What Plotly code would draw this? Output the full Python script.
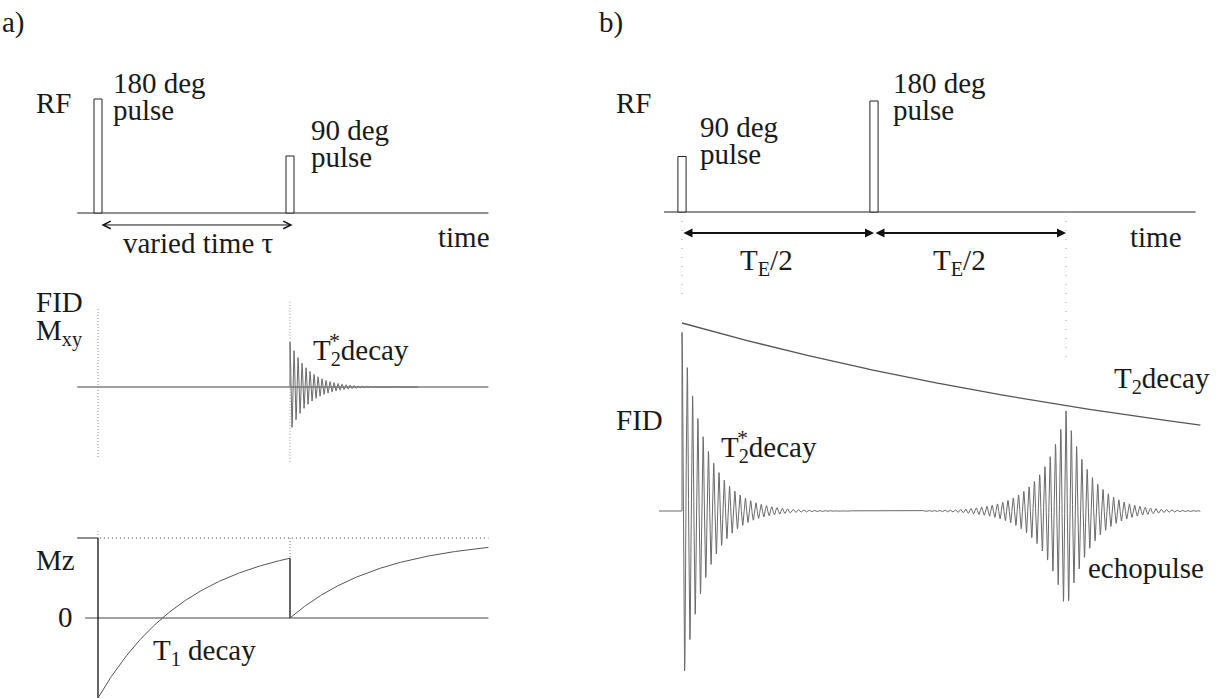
import numpy as np
import plotly.graph_objects as go

W, H = 1222, 699

# ---------------- a) inversion recovery ----------------
TAU = 600.0                 # ms, delay between the 180 and 90 deg pulses
T1 = 290.0                  # ms, longitudinal relaxation time
T2STAR_A = 59.0             # ms, dephasing of the FID
PERIOD_A = 12.5             # ms, precession period as drawn
RF_A_TIMES = [0.0, TAU]     # 180 deg pulse, 90 deg pulse
RF_A_AMPS = [2.0, 1.0]
PULSE_W_A = 25.0
T_START_A, T_END_A = -65.0, 1220.0

# ---------------- b) spin echo ----------------
TE = 80.0                   # ms, echo time
T2 = 138.0                  # ms, transverse relaxation time
T2STAR_B = 5.2              # ms
PERIOD_B = 1.1              # ms
FID_AMP_B = 0.95
RF_B_TIMES = [0.0, TE / 2]  # 90 deg pulse, 180 deg pulse
RF_B_AMPS = [1.0, 2.0]
PULSE_W_B = 1.7
T_START_B, T_END_B = -4.8, 108.0

FONT = "Liberation Serif"
FS = 29
INK = "#1a1a1a"


def x_range(origin_px, px_per_unit):
    return [(0 - origin_px) / px_per_unit, (W - origin_px) / px_per_unit]


def y_range(origin_px, px_per_unit):
    return [(origin_px - H) / px_per_unit, origin_px / px_per_unit]


fig = go.Figure()


def line(x, y, xa, ya, color="#222", width=1.0, dash=None):
    fig.add_trace(go.Scatter(
        x=x, y=y, xaxis=xa, yaxis=ya, mode="lines",
        line=dict(color=color, width=width, dash=dash),
        hoverinfo="skip", showlegend=False))


# ---- a) RF row ----
line([T_START_A, T_END_A], [0, 0], "x", "y", "#222", 1)
for t, a in zip(RF_A_TIMES, RF_A_AMPS):
    fig.add_shape(type="rect", xref="x", yref="y",
                  x0=t - PULSE_W_A / 2, x1=t + PULSE_W_A / 2, y0=0, y1=a,
                  line=dict(color="#222", width=1), fillcolor="white")

# ---- a) FID row ----
mxy0 = 1 - 2 * np.exp(-TAU / T1)
line([T_START_A, T_END_A], [0, 0], "x", "y2", "#808080", 1.6)
ta = np.arange(0, 400, 0.25)
fid_a = mxy0 * np.exp(-ta / T2STAR_A) * np.cos(2 * np.pi * ta / PERIOD_A)
line(np.concatenate([[TAU], TAU + ta]), np.concatenate([[0], fid_a]),
     "x", "y2", "#6a6a6a", 1)
line([0, 0], [1.3, -1.17], "x", "y2", "#888", 1, "1px,2px")
line([TAU, TAU], [1.42, -1.25], "x", "y2", "#999", 1, "1px,2px")

# ---- a) Mz row ----
t_in = np.linspace(0, TAU, 300)
mz_in = 1 - 2 * np.exp(-t_in / T1)
t_out = np.linspace(TAU, T_END_A, 300)
mz_out = 1 - np.exp(-(t_out - TAU) / T1)
line([-40, T_END_A], [0, 0], "x", "y3", "#444", 1)
line([T_START_A, 0], [1, 1], "x", "y3", "#444", 1.2)
line([0, 0], [1, -1], "x", "y3", "#111", 1.3)
line(t_in, mz_in, "x", "y3", "#555", 1)
line([TAU, TAU], [mz_in[-1], 0], "x", "y3", "#111", 1.3)
line(t_out, mz_out, "x", "y3", "#555", 1)
line([6, T_END_A], [1, 1], "x", "y3", "#333", 1, "1px,3px")
line([0, 0], [1, 1.1], "x", "y3", "#999", 1, "1px,2px")
line([TAU, TAU], [1, mz_in[-1]], "x", "y3", "#777", 1, "1px,2px")

# ---- b) RF row ----
line([-3.75, T_END_B - 1], [0, 0], "x2", "y4", "#222", 1)
for t, a in zip(RF_B_TIMES, RF_B_AMPS):
    fig.add_shape(type="rect", xref="x2", yref="y4",
                  x0=t - PULSE_W_B / 2, x1=t + PULSE_W_B / 2, y0=0, y1=a,
                  line=dict(color="#222", width=1), fillcolor="white")
line([0, 0], [0, -1.62], "x2", "y4", "#999", 1, "1px,8px")
line([TE, TE], [0, -2.76], "x2", "y4", "#999", 1, "1px,8px")

# ---- b) FID with echo ----
tb = np.arange(0, T_END_B, 0.02)
fid_b = FID_AMP_B * np.exp(-tb / T2) * (
    np.exp(-tb / T2STAR_B) * np.cos(2 * np.pi * tb / PERIOD_B)
    + np.exp(-np.abs(tb - TE) / T2STAR_B) * np.cos(2 * np.pi * (tb - TE) / PERIOD_B))
line(np.concatenate([[T_START_B, 0], tb]), np.concatenate([[0, 0], fid_b]),
     "x2", "y5", "#6a6a6a", 1)
t2c = np.linspace(0, T_END_B, 300)
line(t2c, np.exp(-t2c / T2), "x2", "y5", "#555", 1.3)


# ---- arrows ----
def arrow(x0, x1, y, xa, ya, head, size, width):
    fig.add_annotation(x=x1, y=y, ax=x0, ay=y, xref=xa, yref=ya,
                       axref=xa, ayref=ya, text="", showarrow=True,
                       arrowhead=head, startarrowhead=head,
                       arrowsize=size, startarrowsize=size,
                       arrowwidth=width, arrowcolor="#111",
                       arrowside="end+start", standoff=0, startstandoff=0)


arrow(6, TAU + 8, -0.21, "x", "y", 5, 1.5, 1)
arrow(0, TE / 2, -0.38, "x2", "y4", 2, 0.9, 2)
arrow(TE / 2, TE, -0.38, "x2", "y4", 2, 0.9, 2)


# ---- text ----
def label(text, px, py, size=FS, anchor="left", family=FONT):
    fig.add_annotation(x=px / W, y=1 - py / H, xref="paper", yref="paper",
                       text=text, showarrow=False, xanchor=anchor,
                       yanchor="middle", font=dict(family=family, size=size, color=INK))


label("a)", 0, 22)
label("RF", 34, 103)
label("180 deg", 111, 83)
label("pulse", 111, 110)
label("90 deg", 309, 130)
label("pulse", 309, 157)
label("varied time τ", 121, 243)
label("time", 436, 237)
label("FID", 34, 302)
label("M<sub>xy</sub>", 34, 332)
label("T<sub>2</sub>decay", 311, 352)
label("*", 327, 340, 22)
label("Mz", 34, 560)
label("0", 56, 617)
label("T<sub>1</sub> decay", 151, 652)

label("b)", 597, 22)
label("RF", 614, 103)
label("90 deg", 698, 127)
label("pulse", 698, 154)
label("180 deg", 891, 83)
label("pulse", 891, 110)
label("time", 1128, 237)
label("T<sub>E</sub>/2", 766, 262, anchor="center")
label("T<sub>E</sub>/2", 959, 262, anchor="center")
label("FID", 614, 420)
label("T<sub>2</sub>decay", 719, 449)
label("*", 735, 437, 22)
label("T<sub>2</sub>decay", 1112, 380)
label("echopulse", 1086, 568)

axis_common = dict(visible=False, showgrid=False, zeroline=False, fixedrange=True)
fig.update_layout(
    width=W, height=H, autosize=False,
    margin=dict(l=0, r=0, t=0, b=0, pad=0),
    paper_bgcolor="white", plot_bgcolor="white",
    showlegend=False,
    xaxis=dict(range=x_range(98, 0.32), **axis_common),
    xaxis2=dict(range=x_range(682, 4.8), overlaying="x", **axis_common),
    yaxis=dict(range=y_range(213, 57), **axis_common),
    yaxis2=dict(range=y_range(387, 60), overlaying="y", **axis_common),
    yaxis3=dict(range=y_range(618, 80), overlaying="y", **axis_common),
    yaxis4=dict(range=y_range(212, 55.5), overlaying="y", **axis_common),
    yaxis5=dict(range=y_range(511, 188), overlaying="y", **axis_common),
)

fig.write_html("out.html")
